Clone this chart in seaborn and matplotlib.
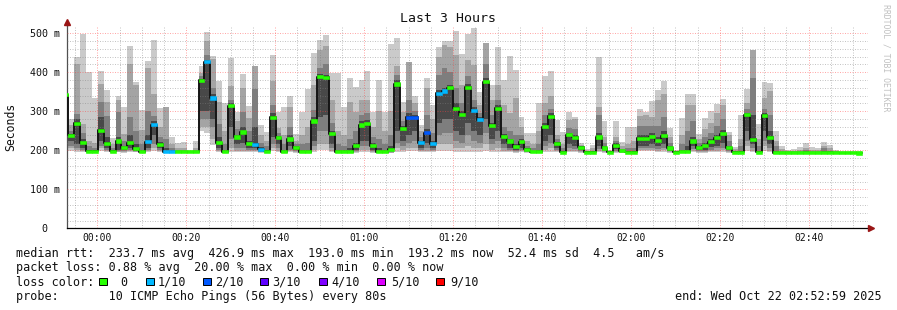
import numpy as np
import pandas as pd
import matplotlib
matplotlib.use("Agg")
import matplotlib.pyplot as plt
import seaborn as sns

# ---------------- data (one entry per 80 s step, first entry is the partial step at 23:53) -------------
FIRST_STEP_MIN = -7.93          # minutes relative to 00:00 of the first (partial) step
STEP_MIN = 80 / 60

med = [342,
       238, 269, 220, 197, 197, 251, 218, 197, 224, 207,
       220, 204, 196, 222, 266, 215, 196, 196, 196, 196,
       196, 196, 380, 427, 334, 219, 196, 314, 234, 247,
       217, 215, 203, 197, 285, 232, 196, 229, 207, 196,
       196, 275, 389, 387, 242, 196, 196, 196, 212, 265,
       268, 212, 196, 196, 203, 370, 255, 285, 285, 220,
       245, 217, 346, 352, 360, 308, 291, 362, 301, 278,
       376, 263, 308, 235, 224, 209, 222, 203, 196, 196,
       261, 287, 218, 195, 240, 233, 208, 195, 195, 234,
       206, 195, 213, 199, 195, 195, 231, 231, 235, 225,
       237, 206, 195, 196, 196, 224, 207, 212, 222, 232,
       243, 207, 195, 195, 291, 228, 195, 290, 233, 194,
       194, 194, 194, 194, 194, 194, 194, 194, 194, 194,
       194, 194, 194, 193]

loss = [0,
        0, 0, 0, 0, 0, 0, 0, 0, 0, 0,
        0, 0, 0, 1, 1, 0, 1, 1, 0, 0,
        0, 0, 0, 1, 1, 0, 0, 0, 0, 0,
        0, 1, 1, 0, 0, 0, 0, 0, 0, 0,
        0, 0, 0, 0, 0, 0, 0, 0, 0, 0,
        0, 0, 0, 0, 0, 0, 0, 2, 2, 1,
        2, 1, 1, 1, 0, 0, 0, 0, 1, 1,
        0, 0, 0, 0, 0, 0, 0, 0, 0, 0,
        0, 0, 0, 0, 0, 0, 0, 0, 0, 0,
        0, 0, 0, 0, 0, 0, 0, 0, 0, 0,
        0, 0, 0, 0, 0, 0, 0, 0, 0, 0,
        0, 0, 0, 0, 0, 0, 0, 0, 0, 0,
        0, 0, 0, 0, 0, 0, 0, 0, 0, 0,
        0, 0, 0, 0]

ping_max = [360,
            280, 440, 497, 400, 333, 403, 355, 231, 340, 311,
            467, 376, 303, 429, 483, 308, 311, 234, 218, 222,
            200, 224, 416, 503, 442, 378, 321, 436, 297, 396,
            314, 417, 265, 248, 444, 297, 311, 339, 243, 299,
            357, 450, 483, 496, 399, 399, 312, 385, 363, 380,
            403, 297, 380, 297, 473, 489, 325, 427, 340, 265,
            386, 315, 466, 481, 481, 507, 446, 497, 513, 350,
            474, 368, 466, 380, 443, 406, 286, 244, 244, 320,
            390, 403, 278, 248, 299, 286, 218, 203, 214, 440,
            275, 201, 275, 222, 261, 261, 306, 297, 326, 354,
            378, 258, 200, 282, 344, 344, 243, 282, 301, 318,
            332, 248, 209, 291, 357, 457, 267, 376, 372, 250,
            212, 201, 203, 209, 220, 209, 205, 221, 214, 201,
            197, 197, 197, 197]

ping_hi2 = [355,
            265, 421, 268, 225, 218, 369, 323, 215, 328, 243,
            421, 368, 251, 410, 345, 260, 311, 215, 205, 205,
            198, 205, 397, 479, 434, 323, 250, 365, 274, 359,
            282, 417, 240, 225, 378, 258, 240, 310, 225, 240,
            260, 368, 457, 467, 330, 250, 240, 325, 299, 329,
            329, 260, 300, 250, 300, 417, 299, 427, 320, 250,
            359, 280, 440, 470, 466, 444, 368, 432, 419, 316,
            474, 330, 368, 316, 295, 333, 260, 225, 215, 250,
            322, 340, 240, 215, 278, 280, 214, 199, 205, 312,
            235, 198, 235, 210, 215, 225, 288, 290, 285, 330,
            345, 235, 198, 240, 315, 315, 228, 255, 269, 295,
            315, 240, 203, 230, 320, 457, 230, 335, 352, 225,
            203, 198, 199, 201, 205, 201, 200, 212, 205, 198,
            196, 196, 196, 196]

ping_hi3 = [350,
            250, 293, 245, 210, 205, 323, 289, 205, 297, 225,
            285, 250, 215, 300, 289, 235, 230, 205, 200, 200,
            197, 200, 390, 444, 359, 267, 215, 330, 255, 297,
            250, 356, 220, 210, 316, 245, 215, 260, 215, 215,
            220, 303, 410, 420, 270, 215, 210, 230, 250, 290,
            295, 235, 230, 215, 240, 393, 275, 330, 300, 235,
            290, 245, 393, 410, 400, 360, 320, 390, 330, 295,
            420, 290, 330, 260, 250, 240, 240, 212, 205, 215,
            290, 305, 228, 205, 258, 255, 211, 197, 199, 290,
            220, 197, 225, 204, 205, 205, 262, 262, 262, 262,
            285, 220, 197, 215, 250, 275, 218, 235, 245, 262,
            280, 225, 199, 210, 305, 386, 210, 305, 290, 210,
            199, 197, 197, 198, 200, 198, 198, 205, 199, 197,
            196, 196, 196, 196]

ping_hi4 = [346,
            243, 280, 228, 200, 200, 285, 235, 200, 235, 212,
            240, 215, 200, 240, 275, 222, 205, 200, 198, 198,
            197, 198, 384, 432, 345, 235, 200, 320, 240, 260,
            225, 260, 208, 200, 295, 237, 200, 240, 210, 200,
            202, 285, 395, 392, 250, 200, 200, 205, 220, 275,
            278, 220, 205, 200, 210, 380, 262, 295, 290, 225,
            255, 225, 355, 360, 368, 320, 300, 370, 310, 285,
            385, 270, 315, 242, 230, 215, 228, 206, 199, 200,
            270, 295, 222, 199, 245, 240, 209, 196, 196, 245,
            210, 196, 218, 201, 199, 199, 240, 240, 245, 235,
            250, 210, 196, 200, 210, 235, 210, 218, 230, 240,
            252, 212, 196, 198, 296, 290, 198, 296, 250, 198,
            196, 196, 196, 196, 197, 196, 196, 199, 197, 196,
            195, 195, 195, 195]

ping_lo4 = [300,
            225, 215, 205, 196, 196, 225, 205, 196, 200, 200,
            205, 198, 195, 205, 240, 205, 196, 196, 195, 195,
            195, 195, 300, 300, 280, 205, 195, 260, 215, 220,
            205, 205, 198, 196, 235, 215, 195, 210, 200, 195,
            195, 225, 286, 290, 215, 195, 195, 195, 200, 225,
            225, 200, 195, 195, 197, 250, 225, 240, 250, 205,
            220, 205, 270, 280, 280, 250, 240, 270, 250, 240,
            280, 230, 250, 215, 205, 200, 205, 198, 195, 195,
            225, 240, 205, 195, 215, 212, 202, 194, 194, 210,
            200, 194, 203, 196, 194, 194, 212, 212, 215, 210,
            215, 199, 194, 195, 195, 210, 200, 202, 208, 212,
            218, 200, 194, 194, 250, 215, 194, 250, 215, 194,
            194, 194, 194, 194, 194, 194, 194, 194, 194, 194,
            194, 194, 194, 194]

ping_lo3 = [250,
            212, 205, 200, 195, 195, 212, 200, 195, 197, 197,
            200, 197, 194, 200, 215, 200, 195, 195, 194, 194,
            194, 194, 280, 280, 260, 200, 194, 230, 205, 205,
            200, 200, 196, 195, 215, 205, 194, 202, 197, 194,
            194, 210, 250, 250, 205, 194, 194, 194, 197, 210,
            210, 197, 194, 194, 195, 220, 210, 220, 225, 200,
            205, 200, 240, 245, 245, 225, 220, 240, 225, 220,
            245, 215, 225, 205, 200, 197, 200, 196, 194, 194,
            210, 220, 200, 194, 205, 203, 199, 194, 194, 203,
            197, 194, 199, 195, 194, 194, 205, 205, 205, 203,
            205, 197, 194, 194, 194, 203, 197, 198, 202, 205,
            207, 197, 194, 194, 225, 205, 194, 225, 205, 194,
            194, 194, 194, 194, 194, 194, 194, 194, 194, 194,
            194, 194, 194, 194]

ping_lo2 = [220,
            205, 200, 197, 194, 194, 205, 198, 194, 196, 195,
            197, 196, 194, 197, 205, 197, 194, 194, 194, 194,
            194, 194, 260, 260, 230, 197, 194, 205, 198, 198,
            197, 197, 195, 194, 205, 198, 194, 198, 195, 194,
            194, 200, 215, 215, 198, 194, 194, 194, 195, 200,
            200, 195, 194, 194, 194, 205, 200, 205, 205, 197,
            198, 197, 215, 215, 215, 205, 205, 210, 205, 205,
            215, 200, 205, 198, 197, 195, 197, 195, 194, 194,
            200, 205, 197, 194, 198, 198, 196, 193, 193, 198,
            195, 193, 196, 194, 193, 193, 200, 200, 200, 199,
            200, 195, 193, 194, 194, 199, 195, 196, 198, 199,
            200, 195, 193, 193, 210, 199, 193, 210, 199, 193,
            193, 193, 193, 193, 193, 193, 193, 193, 193, 193,
            193, 193, 193, 193]

ping_min = [200,
            198, 196, 195, 193, 193, 198, 196, 193, 195, 194,
            195, 195, 193, 195, 198, 195, 193, 193, 193, 193,
            193, 193, 250, 245, 213, 195, 193, 196, 195, 195,
            195, 195, 194, 193, 197, 195, 193, 195, 194, 193,
            193, 196, 200, 200, 195, 193, 193, 193, 194, 196,
            196, 194, 193, 193, 193, 196, 196, 197, 197, 195,
            195, 195, 197, 197, 197, 196, 196, 196, 196, 196,
            197, 196, 196, 195, 195, 194, 195, 194, 193, 193,
            196, 196, 195, 193, 195, 195, 194, 193, 193, 195,
            194, 193, 194, 193, 193, 193, 197, 197, 197, 196,
            196, 194, 193, 193, 193, 196, 194, 194, 195, 195,
            196, 194, 193, 193, 198, 196, 193, 198, 196, 193,
            193, 193, 193, 193, 193, 193, 193, 193, 193, 193,
            193, 193, 193, 193]

y_ticks = [0, 100, 200, 300, 400, 500]
y_tick_labels = ["0  ", "100 m", "200 m", "300 m", "400 m", "500 m"]
x_ticks = [0, 20, 40, 60, 80, 100, 120, 140, 160]
x_tick_labels = ["00:00", "00:20", "00:40", "01:00", "01:20", "01:40", "02:00", "02:20", "02:40"]

loss_levels = [0, 1, 2, 3, 4, 5, 9]
loss_labels = ["0", "1/10", "2/10", "3/10", "4/10", "5/10", "9/10"]
loss_colors = ["#26ff00", "#00b8ff", "#0059ff", "#5e00ff", "#7e00ff", "#dd00ff", "#ff0000"]

title = "Last 3 Hours"
legend_lines = [
    "median rtt:  233.7 ms avg  426.9 ms max  193.0 ms min  193.2 ms now  52.4 ms sd  4.5   am/s",
    "packet loss: 0.88 % avg  20.00 % max  0.00 % min  0.00 % now",
]
probe_line = "probe:       10 ICMP Echo Pings (56 Bytes) every 80s"
end_line = "end: Wed Oct 22 02:52:59 2025"

# ---------------- figure ----------------
sns.set_style("white")
plt.rcParams['font.family'] = ['DejaVu Sans Mono']

W, H = 897, 310
fig = plt.figure(figsize=(W / 100, H / 100), dpi=100)
fig.patch.set_facecolor("white")


def fx(p):
    return p / W


def fy(p):
    return 1 - p / H


L, R, T, B = 67, 868, 25.5, 228.3
ax = fig.add_axes([fx(L), fy(B), fx(R) - fx(L), fy(T) - fy(B)])
ax.set_facecolor("white")

n = len(med)
edges = FIRST_STEP_MIN + STEP_MIN * np.arange(n + 1)


def ext(a):
    a = np.asarray(a, float)
    return np.r_[a, a[-1]]


bands = [(ping_min, ping_max, "#cacaca"),
         (ping_lo2, ping_hi2, "#a4a4a4"),
         (ping_lo3, ping_hi3, "#7e7e7e"),
         (ping_lo4, ping_hi4, "#484848")]
for lo, hi, col in bands:
    ax.fill_between(edges, ext(lo), ext(hi), step="post", color=col, lw=0, zorder=1)

df = pd.DataFrame({"t": edges, "rtt": ext(med)})
sns.lineplot(data=df, x="t", y="rtt", drawstyle="steps-post", color="#151515",
             lw=1.4, estimator=None, ax=ax, zorder=3)

cmap = dict(zip(loss_levels, loss_colors))
box_cols = [cmap[l] for l in loss]
ax.bar(edges[:-1], 8, bottom=np.asarray(med, float) - 4, width=STEP_MIN, align="edge",
       color=box_cols, edgecolor=box_cols, lw=0.4, zorder=4)

ax.set_xlim(-6.85, 173.35)
ax.set_ylim(0, 520)
ax.set_xlabel("")
ax.set_ylabel("")

ax.set_yticks(y_ticks)
ax.set_yticklabels(y_tick_labels)
ax.set_yticks([v for v in range(20, 511, 20) if v % 100], minor=True)
ax.set_xticks(x_ticks)
ax.set_xticklabels(x_tick_labels)
ax.set_xticks([v for v in range(-5, 173, 5) if v % 20], minor=True)

ax.set_axisbelow(False)
ax.grid(which="major", color="#ff4040", alpha=0.45, lw=0.72, ls=(0, (1, 1.5)), zorder=2)
ax.grid(which="minor", color="#808080", alpha=0.45, lw=0.72, ls=(0, (1, 1.5)), zorder=2)

ax.tick_params(axis="both", which="major", length=2.5, width=0.7, color="#505050",
               direction="out", labelsize=7.2, pad=2.5, labelcolor="#111111")
ax.tick_params(axis="both", which="minor", length=1.5, width=0.6, color="#909090", direction="out")
ax.tick_params(axis="x", which="major", labelsize=7.0, pad=1.0)

for s in ["top", "right"]:
    ax.spines[s].set_visible(False)
ax.spines["left"].set_color("#505050")
ax.spines["left"].set_linewidth(0.9)
ax.spines["bottom"].set_color("#000000")
ax.spines["bottom"].set_linewidth(0.9)

# axis arrows
ax.plot([0], [1.0 + 3.5 / (B - T)], marker="^", ms=4.5, color="#9a1515",
        transform=ax.transAxes, clip_on=False, zorder=6)
ax.plot([0, 0], [1.0, 1.0 + 3.0 / (B - T)], color="#505050", lw=0.9,
        transform=ax.transAxes, clip_on=False)
ax.plot([1.0 + 2.5 / (R - L)], [0], marker=">", ms=4.5, color="#9a1515",
        transform=ax.transAxes, clip_on=False, zorder=6)

# titles and side texts
fig.text(fx(448), fy(19), title, ha="center", va="center", fontsize=9.5, color="#111111")
fig.text(fx(10.5), fy(127), "Seconds", rotation=90, ha="center", va="center",
         fontsize=8.3, color="#111111")
fig.text(fx(886), fy(4), "RRDTOOL / TOBI OETIKER", rotation=270, ha="center", va="top",
         fontsize=5.9, color="#c0c0c0")

# legend block
fs = 8.5
fig.text(fx(16), fy(253.5), legend_lines[0], ha="left", va="center", fontsize=fs, color="#111111")
fig.text(fx(16), fy(268), legend_lines[1], ha="left", va="center", fontsize=fs, color="#111111")
fig.text(fx(16), fy(282), "loss color:", ha="left", va="center", fontsize=fs, color="#111111")
sq_x = [99, 146, 203, 260, 319, 377, 436]
lab_x = [120, 158, 215, 272, 331, 391, 450]
for xs, xl, lab, col in zip(sq_x, lab_x, loss_labels, loss_colors):
    fig.patches.append(plt.Rectangle((fx(xs), fy(285)), 7.5 / W, 7.5 / H, transform=fig.transFigure,
                                     facecolor=col, edgecolor="#000000", lw=0.7, figure=fig))
    fig.text(fx(xl), fy(282), lab, ha="left", va="center", fontsize=fs, color="#111111")
fig.text(fx(16), fy(296.5), probe_line, ha="left", va="center", fontsize=fs, color="#111111")
fig.text(fx(882), fy(296.5), end_line, ha="right", va="center", fontsize=fs, color="#111111")

fig.savefig("out.png", dpi=100, facecolor="white")
